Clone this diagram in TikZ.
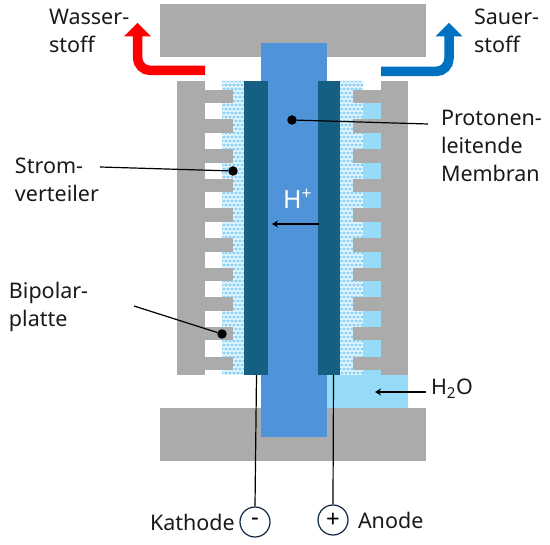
\documentclass[tikz,border=0pt]{standalone}
\usepackage{fontspec}
\setmainfont{Noto Sans}
\definecolor{plate}{HTML}{ABABAB}
\definecolor{memb}{HTML}{4F94D9}
\definecolor{dark}{HTML}{156082}
\definecolor{water}{HTML}{96DCF8}
\definecolor{gdlbase}{HTML}{F0FAFF}
\definecolor{gdldot}{HTML}{8FD3F4}
\definecolor{oxy}{HTML}{0070C0}
\definecolor{ring}{HTML}{0E2841}
\usetikzlibrary{arrows.meta}
\tikzset{
  platepart/.style={fill=plate,draw=none},
  lbl/.style={anchor=base west,inner sep=0pt,outer sep=0pt,align=left,font=\fontsize{21.5}{28.3}\selectfont,text=black!90},
  leader/.style={draw=black,line width=1.2pt},
  pin/.style={circle,fill=black,inner sep=0pt,minimum size=9.5pt},
  pole/.style={circle,draw=ring,line width=1.2pt,fill=white,minimum size=30pt,inner sep=0pt,font=\fontsize{24}{24}\selectfont},
  tiny/.style={inner sep=0pt,outer sep=0pt,minimum size=0pt},
  smallarrow/.style={draw=black,line width=1.2pt,-{Stealth[length=6pt,width=7pt]}},
  flow/.style={line width=9.5pt,rounded corners=13pt}
}
\begin{document}
\begin{tikzpicture}[x=1pt,y=-1pt]
\useasboundingbox (0,0) rectangle (550,545);
% end plates
\fill[platepart] (160,4) rectangle (426,57);
\fill[platepart] (160,408) rectangle (426,461);
% water
\fill[water] (327,375) rectangle (408,408);
\fill[water] (360,103) rectangle (381,376);
% diffusion layers
\fill[gdlbase] (222,81) rectangle (244,375);
\fill[gdlbase] (340,81) rectangle (363,375);
\begin{scope}
\clip (222,81) rectangle (244,375) (340,81) rectangle (363,375);
\foreach \r in {0,...,73}{
  \pgfmathsetmacro{\yy}{81+\r*4}
  \pgfmathsetmacro{\off}{mod(\r,2)*2}
  \foreach \c in {0,...,36}{
    \fill[gdldot] ({220+\off+\c*4},\yy) circle (1.9pt);
  }
}
\end{scope}
% bipolar plates
\fill[platepart] (177,81) rectangle (205,375);
\fill[platepart] (381,81) rectangle (408,375);
\foreach \k in {0,...,9}{
  \pgfmathsetmacro{\ya}{89.7+\k*29.65}
  \fill[platepart] (205,\ya) rectangle (233,\ya+13.6);
  \fill[platepart] (353,\ya) rectangle (381,\ya+13.6);
}
% membrane
\fill[memb] (261,43) rectangle (327,437);
% electrodes
\node[tiny,fill=dark,minimum width=23.5pt,minimum height=294pt] (cath) at (255.75,228) {};
\node[tiny,fill=dark,minimum width=22pt,minimum height=294pt] (anod) at (329,228) {};
% product arrows
\draw[flow,red] (205,70.5) -- (137.5,70.5) -- (137.5,35);
\fill[red] (124,36.5) -- (137.5,23) -- (151,36.5) -- cycle;
\draw[flow,oxy] (381,71.5) -- (449,71.5) -- (449,35);
\fill[oxy] (435.5,36.5) -- (449,23) -- (462.5,36.5) -- cycle;
% labels
\node[lbl] (wasser) at (49,53) {Wasser-\\stoff};
\node[lbl] (sauer) at (474,53) {Sauer-\\stoff};
\node[lbl] (proton) at (441,182) {Protonen-\\leitende\\Membran};
\node[lbl] (strom) at (15,202) {Strom-\\verteiler};
\node[lbl] (bipolar) at (9,327) {Bipolar-\\platte};
\node[lbl] (kath) at (150,531) {Kathode};
\node[lbl] (anode) at (358,529) {Anode};
\node[lbl] (water) at (431,395) {H\textsubscript{2}O};
\node[lbl,text=white,font=\fontsize{25}{25}\selectfont] (hplus) at (283,209) {H\textsuperscript{+}};
% pins and leaders
\node[pin] (pm) at (292,120) {};
\coordinate (pmend) at (428,124);
\draw[leader] (pm) -- (pmend);
\node[pin] (ps) at (233,171) {};
\coordinate (psend) at (100,167);
\draw[leader] (ps) -- (psend);
\node[pin] (pb) at (222,334) {};
\coordinate (pbend) at (134,306);
\draw[leader] (pb) -- (pbend);
% small arrows
\coordinate (ha) at (319,224);
\coordinate (hb) at (272,224);
\draw[smallarrow] (ha) -- (hb);
\coordinate (wa) at (426,392);
\coordinate (wb) at (375,392);
\draw[smallarrow] (wa) -- (wb);
% poles
\node[pole] (neg) at (255,522) {-};
\node[pole] (pos) at (333,520) {+};
\coordinate (cs) at (256.5,375);
\draw[leader] (cs) -- (neg.north);
\coordinate (as) at (333.5,375);
\draw[leader] (as) -- (pos.north);
\end{tikzpicture}
\end{document}
